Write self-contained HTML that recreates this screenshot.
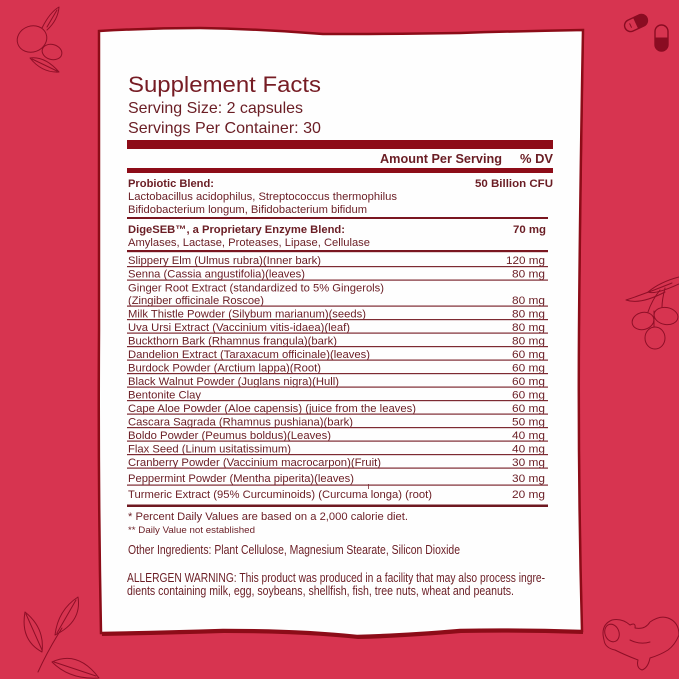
<!DOCTYPE html>
<html>
<head>
<meta charset="utf-8">
<style>
  html,body{margin:0;padding:0;background:#d73450;}
  svg{display:block;}
  text{font-family:"Liberation Sans",Arial,sans-serif;fill:#6a1d24;}
  .b{font-weight:bold;}
</style>
</head>
<body>
<svg width="679" height="679" viewBox="0 0 679 679" xmlns="http://www.w3.org/2000/svg">
  <rect x="0" y="0" width="679" height="679" fill="#d73450"/>

  <!-- decorative illustrations -->
  <g fill="none" stroke="#8e0f27" stroke-width="1" stroke-linejoin="round" stroke-linecap="round">
    <!-- top-left berries -->
    <ellipse cx="32" cy="39" rx="15" ry="13" transform="rotate(-20 32 39)"/>
    <ellipse cx="52" cy="52" rx="10" ry="7.5" transform="rotate(15 52 52)"/>
    <path d="M42 28 Q50 12 59 7 Q58 20 47 30"/>
    <path d="M47 27 L57 10"/>
    <path d="M30 58 Q45 56 59 72 Q42 73 30 58 Z"/>
    <path d="M32 59 L57 71"/>
    <!-- capsules top right -->
    <g transform="rotate(-25 636 23)">
      <rect x="624" y="17" width="24" height="12" rx="6" ry="6" stroke-width="1.4" stroke="#8a0c22"/>
      <path d="M636 17 L642 17 A6 6 0 0 1 642 29 L636 29 Z" fill="#8a0c22" stroke="#8a0c22"/>
      <path d="M630 21 L630 25" stroke="#8a0c22"/>
    </g>
    <rect x="655" y="25" width="13" height="26" rx="6.5" ry="6.5" stroke-width="1.4" stroke="#8a0c22"/>
    <path d="M655 38 L668 38 L668 44.5 A6.5 6.5 0 0 1 655 44.5 Z" fill="#8a0c22" stroke="#8a0c22"/>
    <!-- right berries -->
    <path d="M679 277 Q660 282 648 292 Q655 295 679 284" />
    <path d="M672 283 Q650 292 626 300 Q640 305 665 292"/>
    <path d="M660 290 Q652 300 648 312"/>
    <path d="M665 288 Q662 300 662 307"/>
    <ellipse cx="643" cy="321" rx="11" ry="8.5" transform="rotate(-15 643 321)"/>
    <ellipse cx="666" cy="316" rx="12" ry="8.5" transform="rotate(10 666 316)"/>
    <ellipse cx="655" cy="338" rx="10" ry="11"/>
    <path d="M654 311 L654 327"/>
    <!-- bottom-left leaves -->
    <path d="M38 672 Q48 650 62 628"/>
    <path d="M42 652 Q20 640 25 612 Q45 628 42 652 Z"/>
    <path d="M26 614 L42 650"/>
    <path d="M55 635 Q58 610 78 597 Q82 622 55 635 Z"/>
    <path d="M57 633 L76 600"/>
    <path d="M52 662 Q78 650 99 678 Q70 680 52 662 Z"/>
    <path d="M54 662 L96 676"/>
    <!-- ginger bottom right -->
    <path d="M604 640 Q600 625 612 620 Q622 618 630 625 Q636 622 635 628 Q645 630 650 622 Q660 615 668 618 Q679 622 679 635 Q675 645 668 650 Q660 655 650 658 Q648 668 642 670 Q636 668 638 660 Q625 655 615 650 Q605 648 604 640 Z"/>
    <ellipse cx="612" cy="633" rx="7" ry="9" transform="rotate(-20 612 633)"/>
    <path d="M630 640 Q640 645 650 642"/>
  </g>

  <!-- paper card shadow -->
  <path d="M99 31 Q150 28 200 28 Q260 29 323 34 Q400 34 460 33 Q520 31 583 30 Q580 200 579 330 Q578 480 582 631 Q520 629 460 630 Q400 635 357 636 Q300 630 223 630 Q160 632 101 633 Q98 480 99 330 Q99 180 99 31 Z" fill="#8c0c18" transform="translate(1,3)"/>
  <!-- paper card -->
  <path d="M99 31 Q150 28 200 28 Q260 29 323 34 Q400 34 460 33 Q520 31 583 30 Q580 200 579 330 Q578 480 582 631 Q520 629 460 630 Q400 635 357 636 Q300 630 223 630 Q160 632 101 633 Q98 480 99 330 Q99 180 99 31 Z" fill="#fefefe" stroke="#8c0c18" stroke-width="2.5"/>

  <!-- header -->
  <text x="128" y="92" font-size="22.5" textLength="193" lengthAdjust="spacingAndGlyphs" style="fill:#761c24">Supplement Facts</text>
  <text x="128" y="113" font-size="16" textLength="175" lengthAdjust="spacingAndGlyphs">Serving Size: 2 capsules</text>
  <text x="128" y="133" font-size="16" textLength="193" lengthAdjust="spacingAndGlyphs">Servings Per Container: 30</text>

  <rect x="127" y="140" width="426" height="9" fill="#8d0c18"/>
  <text class="b" x="380" y="163" font-size="12.5" textLength="122" lengthAdjust="spacingAndGlyphs">Amount Per Serving</text>
  <text class="b" x="520" y="163" font-size="12.5" textLength="33" lengthAdjust="spacingAndGlyphs">% DV</text>
  <rect x="127" y="168" width="426" height="5" fill="#8d0c18"/>

  <!-- probiotic -->
  <text class="b" x="128" y="187" font-size="11" textLength="86" lengthAdjust="spacingAndGlyphs">Probiotic Blend:</text>
  <text class="b" x="475" y="187" font-size="11" textLength="78" lengthAdjust="spacingAndGlyphs">50 Billion CFU</text>
  <text x="128" y="200" font-size="11" textLength="269" lengthAdjust="spacingAndGlyphs">Lactobacillus acidophilus, Streptococcus thermophilus</text>
  <text x="128" y="213" font-size="11" textLength="239" lengthAdjust="spacingAndGlyphs">Bifidobacterium longum, Bifidobacterium bifidum</text>
  <rect x="127" y="217" width="421" height="2" fill="#7a1620"/>

  <!-- digeseb -->
  <text class="b" x="128" y="233" font-size="11" textLength="217" lengthAdjust="spacingAndGlyphs">DigeSEB™, a Proprietary Enzyme Blend:</text>
  <text class="b" x="513" y="233" font-size="11" textLength="33" lengthAdjust="spacingAndGlyphs">70 mg</text>
  <text x="128" y="246" font-size="11" textLength="242" lengthAdjust="spacingAndGlyphs">Amylases, Lactase, Proteases, Lipase, Cellulase</text>
  <rect x="127" y="250" width="421" height="2.2" fill="#7a1620"/>

  <!-- ingredient rows -->
  <g font-size="11">
    <text x="128" y="264" textLength="193" lengthAdjust="spacingAndGlyphs">Slippery Elm (Ulmus rubra)(Inner bark)</text>
    <text x="545" y="264" text-anchor="end" textLength="39" lengthAdjust="spacingAndGlyphs">120 mg</text>
    <text x="128" y="277.5" textLength="177" lengthAdjust="spacingAndGlyphs">Senna (Cassia angustifolia)(leaves)</text>
    <text x="545" y="277.5" text-anchor="end" textLength="33" lengthAdjust="spacingAndGlyphs">80 mg</text>
    <text x="128" y="291.5" textLength="256" lengthAdjust="spacingAndGlyphs">Ginger Root Extract (standardized to 5% Gingerols)</text>
    <text x="128" y="304" textLength="136" lengthAdjust="spacingAndGlyphs">(Zingiber officinale Roscoe)</text>
    <text x="545" y="304" text-anchor="end" textLength="33" lengthAdjust="spacingAndGlyphs">80 mg</text>
    <text x="128" y="317.5" textLength="238" lengthAdjust="spacingAndGlyphs">Milk Thistle Powder (Silybum marianum)(seeds)</text>
    <text x="545" y="317.5" text-anchor="end" textLength="33" lengthAdjust="spacingAndGlyphs">80 mg</text>
    <text x="128" y="331" textLength="222" lengthAdjust="spacingAndGlyphs">Uva Ursi Extract (Vaccinium vitis-idaea)(leaf)</text>
    <text x="545" y="331" text-anchor="end" textLength="33" lengthAdjust="spacingAndGlyphs">80 mg</text>
    <text x="128" y="344.5" textLength="209" lengthAdjust="spacingAndGlyphs">Buckthorn Bark (Rhamnus frangula)(bark)</text>
    <text x="545" y="344.5" text-anchor="end" textLength="33" lengthAdjust="spacingAndGlyphs">80 mg</text>
    <text x="128" y="358" textLength="242" lengthAdjust="spacingAndGlyphs">Dandelion Extract (Taraxacum officinale)(leaves)</text>
    <text x="545" y="358" text-anchor="end" textLength="33" lengthAdjust="spacingAndGlyphs">60 mg</text>
    <text x="128" y="371.5" textLength="193" lengthAdjust="spacingAndGlyphs">Burdock Powder (Arctium lappa)(Root)</text>
    <text x="545" y="371.5" text-anchor="end" textLength="33" lengthAdjust="spacingAndGlyphs">60 mg</text>
    <text x="128" y="385" textLength="211" lengthAdjust="spacingAndGlyphs">Black Walnut Powder (Juglans nigra)(Hull)</text>
    <text x="545" y="385" text-anchor="end" textLength="33" lengthAdjust="spacingAndGlyphs">60 mg</text>
    <text x="128" y="398.5" textLength="73" lengthAdjust="spacingAndGlyphs">Bentonite Clay</text>
    <text x="545" y="398.5" text-anchor="end" textLength="33" lengthAdjust="spacingAndGlyphs">60 mg</text>
    <text x="128" y="412" textLength="288" lengthAdjust="spacingAndGlyphs">Cape Aloe Powder (Aloe capensis) (juice from the leaves)</text>
    <text x="545" y="412" text-anchor="end" textLength="33" lengthAdjust="spacingAndGlyphs">60 mg</text>
    <text x="128" y="425.5" textLength="225" lengthAdjust="spacingAndGlyphs">Cascara Sagrada (Rhamnus pushiana)(bark)</text>
    <text x="545" y="425.5" text-anchor="end" textLength="33" lengthAdjust="spacingAndGlyphs">50 mg</text>
    <text x="128" y="439" textLength="203" lengthAdjust="spacingAndGlyphs">Boldo Powder (Peumus boldus)(Leaves)</text>
    <text x="545" y="439" text-anchor="end" textLength="33" lengthAdjust="spacingAndGlyphs">40 mg</text>
    <text x="128" y="452.5" textLength="163" lengthAdjust="spacingAndGlyphs">Flax Seed (Linum usitatissimum)</text>
    <text x="545" y="452.5" text-anchor="end" textLength="33" lengthAdjust="spacingAndGlyphs">40 mg</text>
    <text x="128" y="466" textLength="253" lengthAdjust="spacingAndGlyphs">Cranberry Powder (Vaccinium macrocarpon)(Fruit)</text>
    <text x="545" y="466" text-anchor="end" textLength="33" lengthAdjust="spacingAndGlyphs">30 mg</text>
    <text x="128" y="482" textLength="226" lengthAdjust="spacingAndGlyphs">Peppermint Powder (Mentha piperita)(leaves)</text>
    <text x="545" y="482" text-anchor="end" textLength="33" lengthAdjust="spacingAndGlyphs">30 mg</text>
    <text x="128" y="498" textLength="304" lengthAdjust="spacingAndGlyphs">Turmeric Extract (95% Curcuminoids) (Curcuma longa) (root)</text>
    <text x="545" y="498" text-anchor="end" textLength="33" lengthAdjust="spacingAndGlyphs">20 mg</text>
  </g>

  <!-- row separators -->
  <g fill="#7d2a32">
    <rect x="127" y="266" width="421" height="1.2"/>
    <rect x="127" y="279.5" width="421" height="1.2"/>
    <rect x="127" y="305.5" width="421" height="1.2"/>
    <rect x="127" y="319" width="421" height="1.2"/>
    <rect x="127" y="332.5" width="421" height="1.2"/>
    <rect x="127" y="346" width="421" height="1.2"/>
    <rect x="127" y="359.5" width="421" height="1.2"/>
    <rect x="127" y="373" width="421" height="1.2"/>
    <rect x="127" y="386.5" width="421" height="1.2"/>
    <rect x="127" y="400" width="421" height="1.2"/>
    <rect x="127" y="413.5" width="421" height="1.2"/>
    <rect x="127" y="427" width="421" height="1.2"/>
    <rect x="127" y="440.5" width="421" height="1.2"/>
    <rect x="127" y="454" width="421" height="1.2"/>
    <rect x="127" y="467.5" width="421" height="1.2"/>
    <rect x="127" y="484.5" width="421" height="1.2"/>
  </g>
  <rect x="368" y="484" width="0.8" height="5" fill="#7d2a32"/>
  <rect x="127" y="504.5" width="421" height="2.5" fill="#6e1820"/>

  <!-- footnotes -->
  <text x="128" y="520" font-size="11" textLength="280" lengthAdjust="spacingAndGlyphs">* Percent Daily Values are based on a 2,000 calorie diet.</text>
  <text x="128" y="533" font-size="9" textLength="127" lengthAdjust="spacingAndGlyphs">** Daily Value not established</text>
  <text x="128" y="554" font-size="12.5" textLength="332" lengthAdjust="spacingAndGlyphs">Other Ingredients: Plant Cellulose, Magnesium Stearate, Silicon Dioxide</text>
  <text x="127" y="582" font-size="12.5" textLength="418" lengthAdjust="spacingAndGlyphs">ALLERGEN WARNING: This product was produced in a facility that may also process ingre-</text>
  <text x="127" y="595" font-size="12.5" textLength="387" lengthAdjust="spacingAndGlyphs">dients containing milk, egg, soybeans, shellfish, fish, tree nuts, wheat and peanuts.</text>
</svg>
</body>
</html>
